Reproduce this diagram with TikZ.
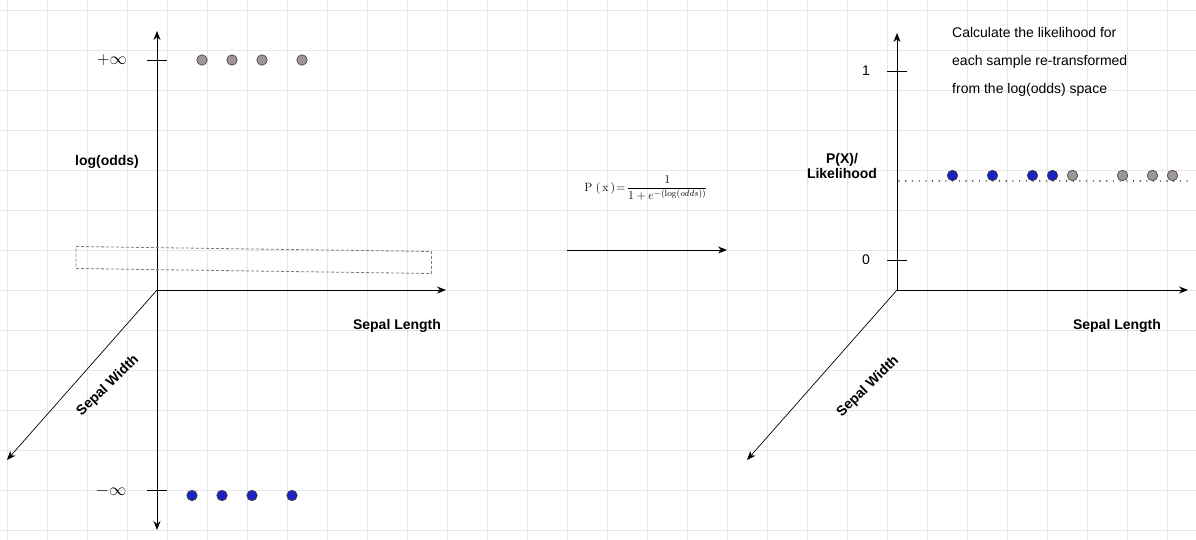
\documentclass[tikz,border=0pt]{standalone}
\usepackage[no-math]{fontspec}
\setmainfont{Liberation Sans}
\usetikzlibrary{arrows.meta}
\definecolor{gridc}{HTML}{E6E6E6}
\definecolor{dotgray}{HTML}{A09595}
\definecolor{dotblue}{HTML}{1A22C0}
\definecolor{dashc}{HTML}{857878}
\begin{document}
\begin{tikzpicture}[x=1pt,y=-1pt,
  axisarrow/.style={line width=0.9pt,-{Stealth[length=9pt,width=7pt]}},
  swarrow/.style={line width=0.7pt,-{Stealth[length=9pt,width=7pt]}},
  tickline/.style={line width=0.9pt},
  ptg/.style={circle,draw=black!75,fill=dotgray,minimum size=10.5pt,inner sep=0pt,line width=0.6pt},
  ptb/.style={circle,draw=black!75,fill=dotblue,minimum size=10.5pt,inner sep=0pt,line width=0.6pt},
  boldlab/.style={font=\bfseries\fontsize{14}{15}\selectfont,inner sep=0pt,align=center},
  plainlab/.style={font=\fontsize{14}{16}\selectfont,inner sep=0pt},
  inflab/.style={font=\fontsize{18}{20}\selectfont,inner sep=0pt}]
\useasboundingbox (0,0) rectangle (1196,540);
\fill[white] (0,0) rectangle (1196,540);
\foreach \gx in {7,47,...,1196} \draw[gridc,line width=0.6pt] (\gx,0) -- (\gx,540);
\foreach \gy in {10,50,...,540} \draw[gridc,line width=0.6pt] (0,\gy) -- (1196,\gy);

% ---------- left plot ----------
\coordinate (LO) at (157,290);
\coordinate (LT) at (157,31);
\coordinate (LB) at (157,530);
\coordinate (LR) at (446,290);
\coordinate (LD) at (7,460);
\draw[axisarrow] (LO) -- (LT);
\draw[axisarrow] (LO) -- (LB);
\draw[axisarrow] (LO) -- (LR);
\draw[swarrow] (LO) -- (LD);

\coordinate (tpA) at (147,60); \coordinate (tpB) at (167,60);
\coordinate (tmA) at (147,490); \coordinate (tmB) at (167,490);
\draw[tickline] (tpA) -- (tpB);
\draw[tickline] (tmA) -- (tmB);
\node[inflab] (pinf) at (112,60) {$+\infty$};
\node[inflab] (minf) at (111,491) {$-\infty$};

\node[ptg] (g1) at (202,60) {};
\node[ptg] (g2) at (232,60) {};
\node[ptg] (g3) at (262,60) {};
\node[ptg] (g4) at (302,60) {};
\node[ptb] (b1) at (192,495.5) {};
\node[ptb] (b2) at (222,495.5) {};
\node[ptb] (b3) at (252,495.5) {};
\node[ptb] (b4) at (292,495.5) {};

\node[boldlab] (logodds) at (107,162) {log(odds)};
\node[boldlab] (slL) at (397,326) {Sepal Length};
\node[boldlab,rotate=44] (swL) at (108,386) {Sepal Width};

\coordinate (r1) at (76,246.5); \coordinate (r2) at (431.5,251.5);
\coordinate (r3) at (431.5,273.5); \coordinate (r4) at (76,268.5);
\draw[dashc,line width=0.8pt,dash pattern=on 3pt off 2pt] (r1) -- (r2) -- (r3) -- (r4) -- cycle;

% ---------- middle ----------
\node[inner sep=0pt,font=\fontsize{12.3}{14}\selectfont] (formula) at (646,188)
  {$\displaystyle\mathrm{P}\;(\,\mathrm{x}\,)\!=\!\frac{1}{1+e^{-(\log(odds))}}$};
\coordinate (mA) at (567,250); \coordinate (mB) at (727,250);
\draw[axisarrow] (mA) -- (mB);

% ---------- right plot ----------
\coordinate (RO) at (897,290);
\coordinate (RT) at (897,33);
\coordinate (RR) at (1188,290);
\coordinate (RD) at (747,460);
\draw[axisarrow] (RO) -- (RT);
\draw[axisarrow] (RO) -- (RR);
\draw[swarrow] (RO) -- (RD);

\coordinate (t1A) at (887,71); \coordinate (t1B) at (907,71);
\coordinate (t0A) at (887,260); \coordinate (t0B) at (907,260);
\draw[tickline] (t1A) -- (t1B);
\draw[tickline] (t0A) -- (t0B);
\node[plainlab] (one) at (866,71) {1};
\node[plainlab] (zero) at (866,260) {0};

\coordinate (dA) at (899,181); \coordinate (dB) at (1188,181);
\draw[black!80,line width=1.6pt,line cap=round,dash pattern=on 0pt off 6.7pt] (dA) -- (dB);

\node[ptb] (rb1) at (952.5,175.5) {};
\node[ptb] (rb2) at (992.5,175.5) {};
\node[ptb] (rb3) at (1032.5,175.5) {};
\node[ptb] (rb4) at (1052.5,175.5) {};
\node[ptg] (rg1) at (1072.5,175.5) {};
\node[ptg] (rg2) at (1122.5,175.5) {};
\node[ptg] (rg3) at (1152.5,175.5) {};
\node[ptg] (rg4) at (1172.5,175.5) {};

\node[boldlab] (pxlab) at (842,166) {P(X)/\\Likelihood};
\node[boldlab] (slR) at (1117,326) {Sepal Length};
\node[boldlab,rotate=44] (swR) at (868,387) {Sepal Width};

\node[anchor=north west,inner sep=0pt,align=left,font=\fontsize{14}{28}\selectfont] (desc) at (952,27)
  {Calculate the likelihood for\\each sample re-transformed\\from the log(odds) space};
\end{tikzpicture}
\end{document}
